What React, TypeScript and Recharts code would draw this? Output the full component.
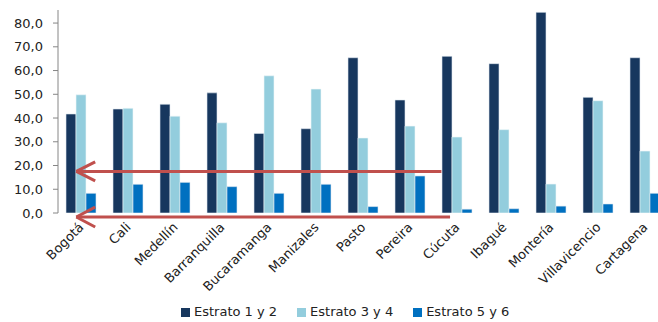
import React from 'react';
import { BarChart, Bar, XAxis, YAxis, ReferenceLine, Legend } from 'recharts';

const categories = ['Bogotá', 'Cali', 'Medellín', 'Barranquilla', 'Bucaramanga', 'Manizales', 'Pasto', 'Pereira', 'Cúcuta', 'Ibagué', 'Montería', 'Villavicencio', 'Cartagena'];
const estrato12 = [41.7, 43.8, 45.8, 50.6, 33.5, 35.5, 65.4, 47.6, 66.0, 62.9, 84.5, 48.7, 65.4];
const estrato34 = [49.8, 44.1, 40.8, 38.0, 57.8, 52.2, 31.6, 36.6, 32.0, 35.1, 12.2, 47.3, 26.1];
const estrato56 = [8.3, 12.1, 12.9, 11.1, 8.3, 12.1, 2.7, 15.6, 1.6, 1.8, 2.9, 3.8, 8.3];
const yTicks = [0, 10, 20, 30, 40, 50, 60, 70, 80];
const seriesNames = ['Estrato 1 y 2', 'Estrato 3 y 4', 'Estrato 5 y 6'];
const seriesColors = ['#17375E', '#93CDDD', '#0070C0'];

// annotation arrows (category-position units on x, value units on y)
const arrowUpper = { tipX: 0.36, endX: 7.53, y: 17.5, headX: 0.73, headDy: 4.0 };
const arrowLower = { tipX: 0.36, endX: 7.7, y: -1.7, headX: 0.73, headDy: 4.2 };

const gridTicks = categories.map((_, i) => i).concat([categories.length]);

const data = categories.map((c, i) => ({
  city: c,
  e12: estrato12[i],
  e34: estrato34[i],
  e56: estrato56[i],
}));

const FONT = "'DejaVu Sans', sans-serif";

const CityTick = (props: any) => {
  const { x, y, payload } = props;
  return (
    <g transform={`translate(${x + 3},${y + 15})`}>
      <text textAnchor="end" transform="rotate(-45)" fontSize={13} fill="#222" fontFamily={FONT}>
        {payload.value}
      </text>
    </g>
  );
};

const LegendContent = () => (
  <div style={{ display: 'flex', paddingLeft: 181, fontFamily: FONT, fontSize: 13, color: '#222', lineHeight: '16px' }}>
    {seriesNames.map((n, i) => (
      <div key={n} style={{ display: 'flex', alignItems: 'center', marginRight: 20 }}>
        <span style={{ display: 'inline-block', width: 9, height: 9, background: seriesColors[i], marginRight: 4 }} />
        <span>{n}</span>
      </div>
    ))}
  </div>
);

const arrowLines = (a: typeof arrowUpper, key: string) => [
  <ReferenceLine key={key + 'm'} xAxisId="grid" ifOverflow="visible" stroke="#C0504D" strokeWidth={3}
    segment={[{ x: a.tipX, y: a.y }, { x: a.endX, y: a.y }]} />,
  <ReferenceLine key={key + 'u'} xAxisId="grid" ifOverflow="visible" stroke="#C0504D" strokeWidth={3}
    segment={[{ x: a.tipX, y: a.y }, { x: a.headX, y: a.y + a.headDy }]} />,
  <ReferenceLine key={key + 'd'} xAxisId="grid" ifOverflow="visible" stroke="#C0504D" strokeWidth={3}
    segment={[{ x: a.tipX, y: a.y }, { x: a.headX, y: a.y - a.headDy }]} />,
];

export default function App() {
  return (
    <div style={{ position: 'absolute', left: 0, top: 0, width: 658, height: 322, overflow: 'hidden', background: '#fff' }}>
      <BarChart
        width={680}
        height={322}
        data={data}
        margin={{ top: 10, right: 11, bottom: 0, left: 0 }}
        barCategoryGap={8}
        barGap={0}
        style={{ fontFamily: FONT }}
      >
        <XAxis xAxisId="grid" type="number" domain={[0, categories.length]} ticks={gridTicks}
          allowDataOverflow height={0} tickSize={5} tick={() => <g />}
          axisLine={{ stroke: '#868686' }} tickLine={{ stroke: '#868686' }} />
        <XAxis xAxisId="cat" dataKey="city" type="category" height={109} interval={0}
          axisLine={false} tickLine={false} tickSize={0} tickMargin={0} tick={<CityTick />} />
        <YAxis width={58} domain={[0, 85.5]} ticks={yTicks} allowDataOverflow
          tickFormatter={(v: number) => v.toFixed(1).replace('.', ',')}
          tick={{ fontSize: 13, fill: '#222', fontFamily: FONT }}
          tickSize={5} tickMargin={10}
          axisLine={{ stroke: '#868686' }} tickLine={{ stroke: '#868686' }} />
        <Legend verticalAlign="middle" layout="horizontal" content={<LegendContent />}
          wrapperStyle={{ position: 'absolute', top: 304, left: 0, width: 680 }} />
        <Bar xAxisId="cat" dataKey="e12" name={seriesNames[0]} fill={seriesColors[0]} stroke="#dfe8f0" strokeWidth={0.6} isAnimationActive={false} />
        <Bar xAxisId="cat" dataKey="e34" name={seriesNames[1]} fill={seriesColors[1]} stroke="#eef6f9" strokeWidth={0.6} isAnimationActive={false} />
        <Bar xAxisId="cat" dataKey="e56" name={seriesNames[2]} fill={seriesColors[2]} stroke="#dfe8f0" strokeWidth={0.6} isAnimationActive={false} />
        {arrowLines(arrowUpper, 'a1')}
        {arrowLines(arrowLower, 'a2')}
      </BarChart>
    </div>
  );
}
